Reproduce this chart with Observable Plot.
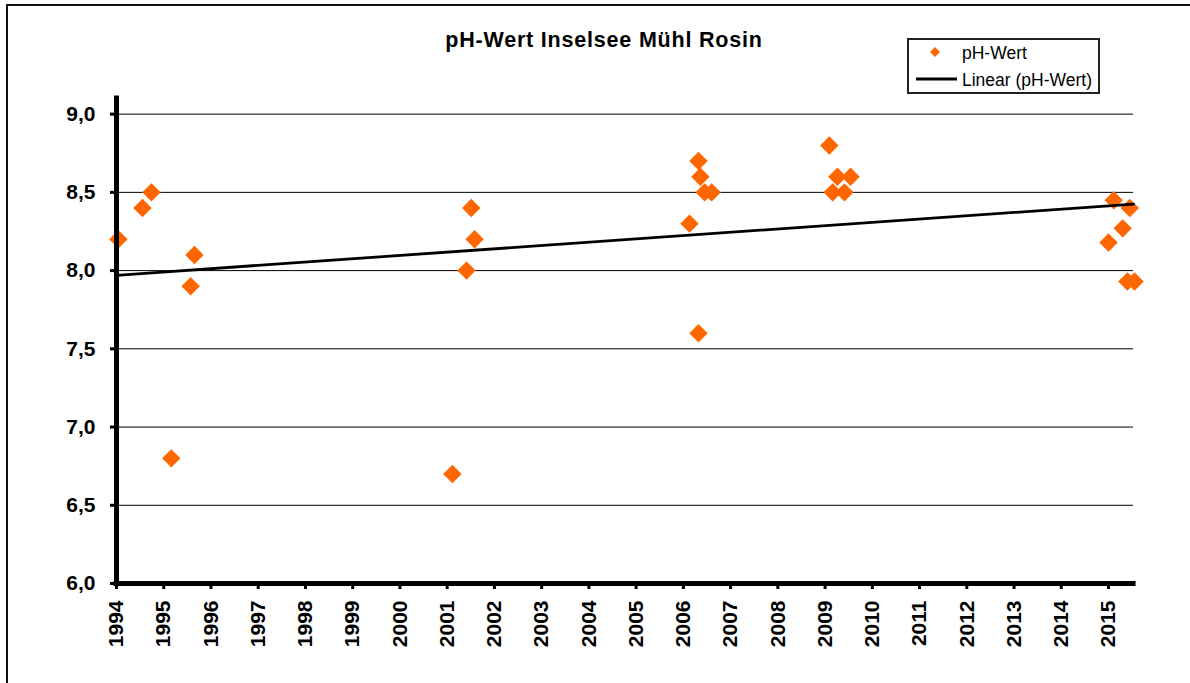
<!DOCTYPE html>
<html>
<head>
<meta charset="utf-8">
<script src="https://cdn.jsdelivr.net/npm/d3@7"></script>
<script src="https://cdn.jsdelivr.net/npm/@observablehq/plot@0.6"></script>
<style>
  html, body { margin: 0; padding: 0; background: #fff; overflow: hidden; }
  #wrap { position: relative; width: 1190px; height: 683px; font-family: "Liberation Sans", Arial, sans-serif; }
  #frame { position: absolute; left: 6px; top: 4px; width: 1200px; height: 700px; border-left: 2px solid #111; border-top: 2px solid #111; box-sizing: border-box; pointer-events: none; }
  #title { position: absolute; left: 0; width: 1208px; top: 28px; text-align: center; font-weight: bold; font-size: 21.5px; letter-spacing: 0.8px; color: #000; }
  #legend { position: absolute; left: 907px; top: 38px; width: 193px; height: 56px; border: 2px solid #222; box-sizing: border-box; background: #fff; font-size: 17.5px; color: #000; }
  #legend .row { position: absolute; left: 0; height: 22px; line-height: 22px; }
  #legend svg { position: absolute; left: 0; top: 0; }
  #legend .lbl { position: absolute; left: 53px; white-space: nowrap; }
  #chart { position: absolute; left: 0; top: 0; }
</style>
</head>
<body>
<div id="wrap">
  <div id="chart"></div>
  <div id="frame"></div>
  <div id="title">pH-Wert Inselsee Mühl Rosin</div>
  <div id="legend">
    <svg width="190" height="52">
      <path d="M26,7 L31,12 L26,17 L21,12 Z" fill="#FF6600"></path>
      <line x1="7" x2="48" y1="39" y2="39" stroke="#000" stroke-width="3"></line>
    </svg>
    <div class="row" style="top:2px"><span class="lbl">pH-Wert</span></div>
    <div class="row" style="top:29px"><span class="lbl">Linear (pH-Wert)</span></div>
  </div>
</div>
<script>
// ---- data ----
const years = [
  1994.04, 1994.55, 1994.74, 1995.16, 1995.57, 1995.65,
  2001.11, 2001.41, 2001.51, 2001.58,
  2006.13, 2006.32, 2006.36, 2006.32, 2006.45, 2006.60,
  2009.09, 2009.16, 2009.26, 2009.41, 2009.54,
  2015.00, 2015.11, 2015.30, 2015.40, 2015.45, 2015.55
];
const phValues = [
  8.2, 8.4, 8.5, 6.8, 7.9, 8.1,
  6.7, 8.0, 8.4, 8.2,
  8.3, 8.7, 8.6, 7.6, 8.5, 8.5,
  8.8, 8.5, 8.6, 8.5, 8.6,
  8.18, 8.45, 8.27, 7.93, 8.40, 7.93
];
const trendYears = [1994.0, 2015.53];
const trendValues = [7.97, 8.425];
const xTicks = d3.range(1994, 2016);
const xTickLabels = xTicks.map(String);
const yTicks = [6.0, 6.5, 7.0, 7.5, 8.0, 8.5, 9.0];
const yTickLabels = ["6,0", "6,5", "7,0", "7,5", "8,0", "8,5", "9,0"];

const points = years.map((x, i) => ({x, y: phValues[i]}));
const trend = trendYears.map((x, i) => ({x, y: trendValues[i]}));
const xMin = 1994, xMax = 2015.55, yMin = 6, yMax = 9.1;

const chart = Plot.plot({
  width: 1190,
  height: 683,
  marginLeft: 116,
  marginRight: 56,
  marginTop: 98,
  marginBottom: 100,
  style: {fontFamily: '"Liberation Sans", Arial, sans-serif', background: "transparent", color: "#000"},
  x: {domain: [xMin, xMax]},
  y: {domain: [yMin, yMax]},
  marks: [
    Plot.ruleY(yTicks.slice(1), {x1: xMin, x2: 2015.53, stroke: "#000", strokeWidth: 1}),
    Plot.dot(points, {x: "x", y: "y", symbol: "diamond2", r: 8.3, fill: "#FF6600", stroke: "none"}),
    Plot.line(trend, {x: "x", y: "y", stroke: "#000", strokeWidth: 2.8}),
    Plot.ruleX([xMin], {y1: yMin, y2: yMax, stroke: "#000", strokeWidth: 5, strokeLinecap: "square"}),
    Plot.ruleY([yMin], {x1: xMin, x2: 2015.53, stroke: "#000", strokeWidth: 5, strokeLinecap: "square"}),
    Plot.axisY({
      ticks: yTicks,
      tickFormat: d => yTickLabels[yTicks.indexOf(d)],
      tickSize: 6, tickPadding: 15, strokeWidth: 3,
      fontSize: 21, fontWeight: "bold", label: null
    }),
    Plot.axisX({
      ticks: xTicks,
      tickFormat: d => xTickLabels[xTicks.indexOf(d)],
      tickRotate: -90, tickSize: 6, tickPadding: 11, strokeWidth: 3,
      fontSize: 21, fontWeight: "bold", label: null
    })
  ]
});
document.getElementById("chart").appendChild(chart);
</script>
</body>
</html>
